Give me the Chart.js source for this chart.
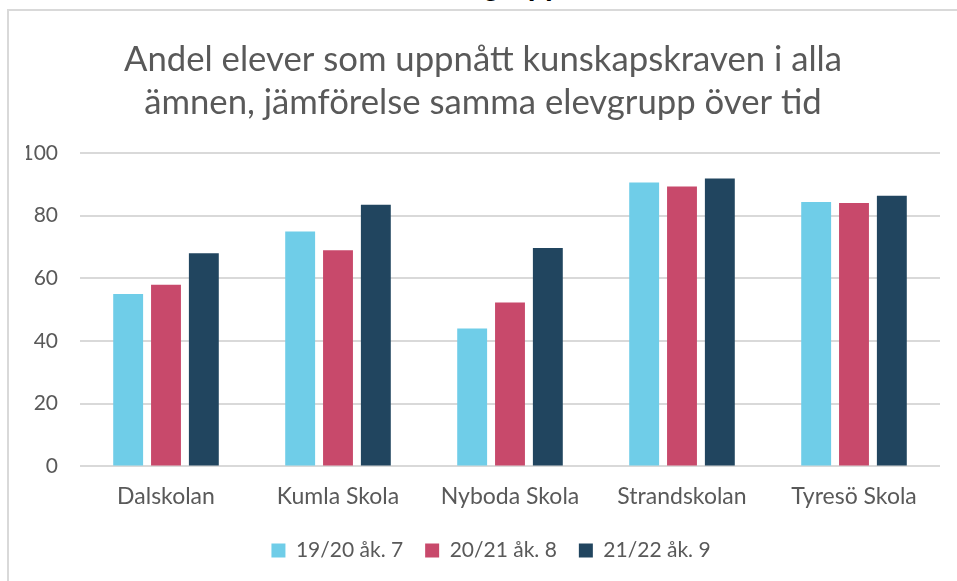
<!DOCTYPE html>
<html>
<head>
<meta charset="utf-8">
<script src="https://cdn.jsdelivr.net/npm/chart.js@4"></script>
<style>
    body { margin: 0; background: #fff; overflow: hidden; }
    #heading {
        position: absolute; left: 0; width: 562px; top: -30px;
        text-align: right; font: bold 28px "Liberation Sans", sans-serif; color: #000;
    }
    #frame {
        position: absolute; left: 7px; top: 9px; width: 1000px; height: 700px;
        border: 2px solid #d9d9d9; box-sizing: border-box;
    }
    #wrap { position: absolute; left: 0; top: 0; width: 957px; height: 581px; }
</style>
</head>
<body>
<div id="heading">Samma elevgrupp</div>
<div id="frame"></div>
<div id="wrap"><canvas id="myChart" width="957" height="581"></canvas></div>
<script>
const schools = ['Dalskolan', 'Kumla Skola', 'Nyboda Skola', 'Strandskolan', 'Tyresö Skola']
const ak7 = [55, 75, 44, 90.6, 84.4]
const ak8 = [58, 69, 52.3, 89.3, 84.1]
const ak9 = [68, 83.5, 69.7, 91.9, 86.4]
const yTicks = [0, 20, 40, 60, 80, 100]

// nudge the legend a little to the right, like the original
const legendShift = {
    id: 'legendShift',
    afterLayout(chart) {
        chart.legend.left += 8
        chart.legend.right += 8
    }
}

const chart = (labels) => {

    const ctx = document.getElementById('myChart');
    const grey = '#595959'
    const font = 'Lato, "Liberation Sans", sans-serif'

    new Chart(ctx, {
        type: 'bar',
        plugins: [legendShift],
        data: {
            labels: labels,
            datasets: [
                { label: '19/20 åk. 7', data: ak7, backgroundColor: '#6fcde8' },
                { label: '20/21 åk. 8', data: ak8, backgroundColor: '#c8496b' },
                { label: '21/22 åk. 9', data: ak9, backgroundColor: '#21455f' }
            ]
        },
        options: {
            responsive: false,
            animation: false,
            layout: { padding: { left: 26, right: 17, top: 0, bottom: 10 } },
            datasets: { bar: { barPercentage: 0.79, categoryPercentage: 0.66 } },
            plugins: {
                title: {
                    display: true,
                    text: ['Andel elever som uppnått kunskapskraven i alla', 'ämnen, jämförelse samma elevgrupp över tid'],
                    color: grey,
                    font: { family: font, size: 34.7, weight: 'normal', lineHeight: 1.24 },
                    padding: { top: 38, bottom: 29 }
                },
                legend: {
                    position: 'bottom',
                    labels: {
                        color: grey,
                        boxWidth: 14,
                        boxHeight: 14,
                        padding: 22,
                        font: { family: font, size: 21 }
                    }
                },
                tooltip: { enabled: false }
            },
            scales: {
                x: {
                    grid: { display: false },
                    border: { display: false },
                    ticks: { color: grey, padding: 8, font: { family: font, size: 23 } }
                },
                y: {
                    min: 0,
                    max: 100,
                    afterBuildTicks: (axis) => { axis.ticks = yTicks.map(v => ({ value: v })) },
                    afterFit: (axis) => { axis.width = 54 },
                    grid: { color: '#d9d9d9', lineWidth: 2, drawTicks: false },
                    border: { display: false },
                    ticks: { color: grey, padding: 22, font: { family: font, size: 21 } }
                }
            }
        }
    });

}

chart(schools)
</script>
</body>
</html>
